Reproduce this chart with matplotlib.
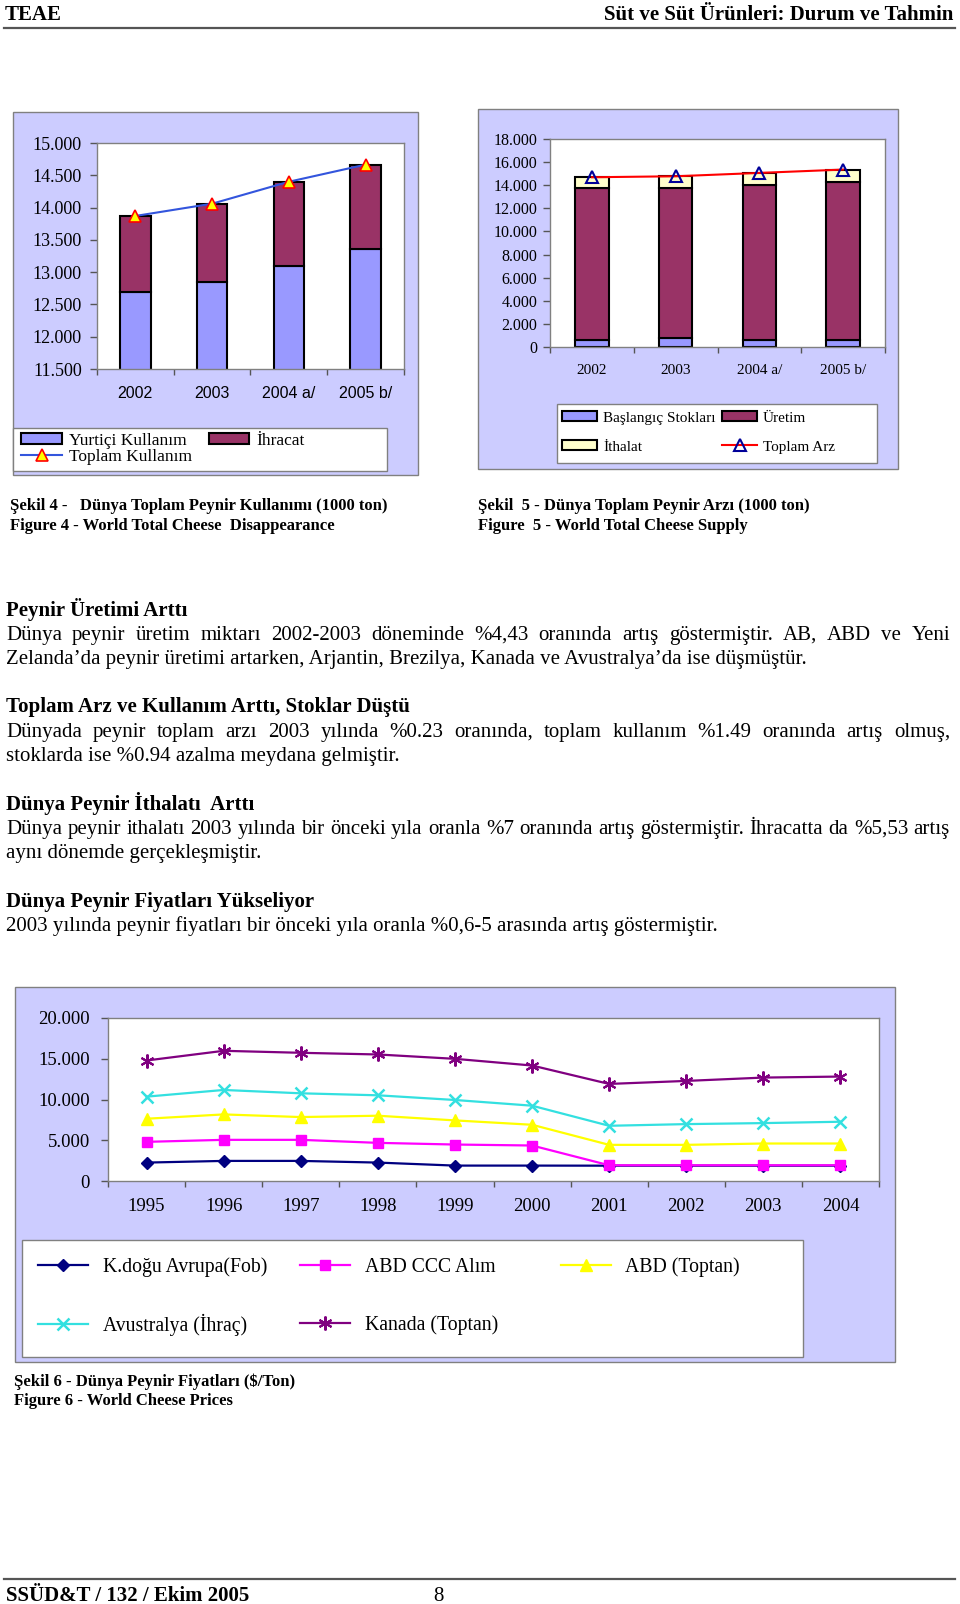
import matplotlib
matplotlib.use('Agg')
import matplotlib.pyplot as plt
from matplotlib.patches import Rectangle, Patch
from matplotlib.lines import Line2D
from matplotlib.ticker import FuncFormatter
import numpy as np

W, H = 960, 1604
SERIF = 'Liberation Serif'
SANS = 'Liberation Sans'

# ---------------- data ----------------
c1_years = ['2002', '2003', '2004 a/', '2005 b/']
c1_yurtici = [12700, 12855, 13095, 13360]
c1_ihracat = [1170, 1205, 1305, 1305]
c1_toplam = [13870, 14060, 14400, 14665]

c2_years = ['2002', '2003', '2004 a/', '2005 b/']
c2_stok = [635, 780, 635, 635]
c2_uretim = [13130, 12985, 13390, 13680]
c2_ithalat = [925, 1010, 1040, 1040]
c2_toplam = [14690, 14775, 15065, 15355]

c3_years = ['1995', '1996', '1997', '1998', '1999', '2000', '2001', '2002', '2003', '2004']
c3_kdogu = [2260, 2465, 2465, 2260, 1890, 1890, 1880, 1880, 1880, 1880]
c3_abd_ccc = [4805, 5050, 5050, 4680, 4475, 4355, 1930, 1930, 1930, 1930]
c3_abd_toptan = [7640, 8170, 7845, 8010, 7435, 6900, 4435, 4435, 4600, 4600]
c3_avustralya = [10350, 11170, 10760, 10515, 9940, 9240, 6775, 6980, 7105, 7270]
c3_kanada = [14785, 15975, 15730, 15525, 14990, 14170, 11910, 12280, 12690, 12815]

# ---------------- helpers ----------------
fig = plt.figure(figsize=(W / 100, H / 100), dpi=100)
fig.patch.set_facecolor('white')


def fx(x):
    return x / W


def fy(y):
    return 1 - y / H


def axes_px(l, t, r, b):
    return fig.add_axes([fx(l), fy(b), (r - l) / W, (b - t) / H])


def box(l, t, r, b, fc, ec='#808080', lw=1.0, z=-2):
    fig.add_artist(Rectangle((fx(l), fy(b)), (r - l) / W, (b - t) / H,
                             transform=fig.transFigure, facecolor=fc,
                             edgecolor=ec, linewidth=lw, zorder=z))


def thousands(v, p):
    return f"{int(round(v)):,}".replace(',', '.')


def style_ax(ax, n, ysize, xsize, yfam=SERIF, xfam=SERIF, ypad=6, xpad=10):
    ax.set_facecolor('white')
    for s in ax.spines.values():
        s.set_color('#808080')
        s.set_linewidth(1.0)
    ax.set_xlim(-0.5, n - 0.5)
    ax.set_xticks(np.arange(n))
    ax.set_xticks(np.arange(-0.5, n, 1.0), minor=True)
    ax.tick_params(axis='x', which='major', length=0, pad=xpad + 4)
    ax.tick_params(axis='x', which='minor', length=4, width=1, color='#555555', direction='out')
    ax.tick_params(axis='y', which='major', length=5, width=1, color='#555555', direction='out', pad=ypad)
    ax.yaxis.set_major_formatter(FuncFormatter(thousands))
    for lab in ax.get_yticklabels():
        lab.set_family(yfam)
        lab.set_fontsize(ysize)
    for lab in ax.get_xticklabels():
        lab.set_family(xfam)
        lab.set_fontsize(xsize)


def leg_entry(handle, label, x_handle, x_text, y, size, hlen_px, hh_px=None):
    fpx = size * 100 / 72
    hl = hlen_px / fpx
    htp = (x_text - x_handle - hlen_px) / fpx
    hh = (hh_px / fpx) if hh_px else 0.7
    lg = fig.legend([handle], [label], loc='center left',
                    bbox_to_anchor=(fx(x_handle), fy(y)),
                    bbox_transform=fig.transFigure, frameon=False,
                    borderpad=0, borderaxespad=0, handlelength=hl,
                    handletextpad=htp, handleheight=hh, numpoints=1,
                    prop={'family': SERIF, 'size': size})
    return lg


def txt(x, y, s, size, weight='normal', ha='left'):
    return fig.text(fx(x), fy(y), s, fontsize=size, family=SERIF,
                    weight=weight, ha=ha, va='baseline')


renderer = fig.canvas.get_renderer()


def justify(x0, x1, y, s, size, weight='normal'):
    words = s.split()
    ts = [txt(x0, y, w, size, weight) for w in words]
    widths = [t.get_window_extent(renderer).width for t in ts]
    gap = (x1 - x0 - sum(widths)) / (len(words) - 1)
    min_gap = 0.12 * size * 100 / 72
    if gap < min_gap:
        scale = (x1 - x0 - min_gap * (len(words) - 1)) / sum(widths)
        for t in ts:
            t.set_fontsize(size * scale)
        widths = [t.get_window_extent(renderer).width for t in ts]
        gap = (x1 - x0 - sum(widths)) / (len(words) - 1)
    x = x0
    for t, w in zip(ts, widths):
        t.set_x(fx(x))
        x += w + gap


# ---------------- page header / footer ----------------
txt(5, 20, 'TEAE', 15, 'bold')
txt(953, 20, 'Süt ve Süt Ürünleri: Durum ve Tahmin', 15, 'bold', ha='right')
fig.add_artist(Line2D([fx(4), fx(955)], [fy(27.6), fy(27.6)], transform=fig.transFigure,
                      color='#555555', linewidth=1.6))
fig.add_artist(Line2D([fx(4), fx(955)], [fy(1579), fy(1579)], transform=fig.transFigure,
                      color='#555555', linewidth=1.6))
txt(6, 1601, 'SSÜD&T / 132 / Ekim 2005', 15, 'bold')
txt(438, 1601, '8', 15, 'normal', ha='center')

# ---------------- chart 1 ----------------
box(13, 112, 418, 475, '#CCCCFF')
box(13, 428, 387, 471, 'white', z=-1)
ax1 = axes_px(97, 143, 404, 369)
x1 = np.arange(len(c1_years))
ax1.bar(x1, c1_yurtici, width=0.4, color='#9999FF', edgecolor='black', linewidth=1.5, zorder=2)
ax1.bar(x1, c1_ihracat, width=0.4, bottom=c1_yurtici, color='#993366', edgecolor='black',
        linewidth=1.5, zorder=2)
ax1.plot(x1, c1_toplam, color='#3355DD', linewidth=1.5, marker='^', markersize=8,
         markerfacecolor='#FFFF00', markeredgecolor='#FF0000', markeredgewidth=1.2, zorder=3)
ax1.set_ylim(11500, 15000)
ax1.set_yticks(np.arange(11500, 15001, 500))
ax1.set_xticks(x1)
ax1.set_xticklabels(c1_years)
style_ax(ax1, len(c1_years), 13, 11.5, SERIF, SANS, ypad=6, xpad=8)

leg_entry(Patch(facecolor='#9999FF', edgecolor='black', linewidth=1.5), 'Yurtiçi Kullanım',
          21, 69, 441, 12.5, 41, 10)
leg_entry(Patch(facecolor='#993366', edgecolor='black', linewidth=1.5), 'İhracat',
          209, 256, 441, 12.5, 40, 10)
leg_entry(Line2D([], [], color='#3355DD', linewidth=1.5, marker='^', markersize=8,
                 markerfacecolor='#FFFF00', markeredgecolor='#FF0000', markeredgewidth=1.2),
          'Toplam Kullanım', 21, 69, 457, 12.5, 41)

# ---------------- chart 2 ----------------
box(478, 109, 898, 469, '#CCCCFF')
box(557, 404, 877, 463, 'white', z=-1)
ax2 = axes_px(550, 139, 885, 347)
x2 = np.arange(len(c2_years))
b_stok = np.array(c2_stok)
b_ur = b_stok + np.array(c2_uretim)
ax2.bar(x2, c2_stok, width=0.4, color='#9999FF', edgecolor='black', linewidth=1.5, zorder=2)
ax2.bar(x2, c2_uretim, width=0.4, bottom=b_stok, color='#993366', edgecolor='black',
        linewidth=1.5, zorder=2)
ax2.bar(x2, c2_ithalat, width=0.4, bottom=b_ur, color='#FFFFCC', edgecolor='black',
        linewidth=1.5, zorder=2)
ax2.plot(x2, c2_toplam, color='#FF0000', linewidth=1.5, marker='^', markersize=8,
         markerfacecolor='none', markeredgecolor='#000099', markeredgewidth=1.5, zorder=3)
ax2.set_ylim(0, 18000)
ax2.set_yticks(np.arange(0, 18001, 2000))
ax2.set_xticks(x2)
ax2.set_xticklabels(c2_years)
style_ax(ax2, len(c2_years), 11.5, 11, SERIF, SERIF, ypad=4, xpad=8)

leg_entry(Patch(facecolor='#9999FF', edgecolor='black', linewidth=1.5), 'Başlangıç Stokları',
          562, 603, 418, 11, 35, 9)
leg_entry(Patch(facecolor='#FFFFCC', edgecolor='black', linewidth=1.5), 'İthalat',
          562, 603, 447, 11, 35, 9)
leg_entry(Patch(facecolor='#993366', edgecolor='black', linewidth=1.5), 'Üretim',
          722, 763, 418, 11, 35, 9)
leg_entry(Line2D([], [], color='#FF0000', linewidth=1.5, marker='^', markersize=8,
                 markerfacecolor='none', markeredgecolor='#000099', markeredgewidth=1.5),
          'Toplam Arz', 722, 763, 447, 11, 35)

# ---------------- captions ----------------
CS = 12
txt(10, 510, 'Şekil 4 -   Dünya Toplam Peynir Kullanımı (1000 ton)', CS, 'bold')
txt(10, 530.5, 'Figure 4 - World Total Cheese  Disappearance', CS, 'bold')
txt(478, 510, 'Şekil  5 - Dünya Toplam Peynir Arzı (1000 ton)', CS, 'bold')
txt(478, 530.5, 'Figure  5 - World Total Cheese Supply', CS, 'bold')

# ---------------- body text ----------------
BS = 15
HS = 15
L, R = 6, 950
txt(L, 616, 'Peynir Üretimi Arttı', HS, 'bold')
justify(L, R, 640, 'Dünya peynir üretim miktarı 2002-2003 döneminde %4,43 oranında artış '
        'göstermiştir. AB, ABD ve Yeni', BS)
txt(L, 664, 'Zelanda’da peynir üretimi artarken, Arjantin, Brezilya, Kanada ve '
    'Avustralya’da ise düşmüştür.', BS)

txt(L, 712, 'Toplam Arz ve Kullanım Arttı, Stoklar Düştü', HS, 'bold')
justify(L, R, 737, 'Dünyada peynir toplam arzı 2003 yılında %0.23 oranında, toplam kullanım '
        '%1.49 oranında artış olmuş,', BS)
txt(L, 761, 'stoklarda ise %0.94 azalma meydana gelmiştir.', BS)

txt(L, 810, 'Dünya Peynir İthalatı  Arttı', HS, 'bold')
justify(L, R, 834, 'Dünya peynir ithalatı 2003 yılında bir önceki yıla oranla %7 oranında '
        'artış göstermiştir. İhracatta da %5,53 artış', BS)
txt(L, 858, 'aynı dönemde gerçekleşmiştir.', BS)

txt(L, 907, 'Dünya Peynir Fiyatları Yükseliyor', HS, 'bold')
txt(L, 931, '2003 yılında peynir fiyatları bir önceki yıla oranla %0,6-5 arasında artış '
    'göstermiştir.', BS)

# ---------------- chart 3 ----------------
box(15, 987, 895, 1362, '#CCCCFF')
box(22, 1240, 803, 1357, 'white', z=-1)
ax3 = axes_px(108, 1018, 879, 1181)
x3 = np.arange(len(c3_years))
s_kdogu = dict(color='#000080', marker='D', markersize=6.5, label='K.doğu Avrupa(Fob)')
s_ccc = dict(color='#FF00FF', marker='s', markersize=7, label='ABD CCC Alım')
s_top = dict(color='#FFFF00', marker='^', markersize=8.5, label='ABD (Toptan)')
s_avu = dict(color='#33E0E0', marker='x', markersize=8, markeredgewidth=1.8, label='Avustralya (İhraç)')
s_kan = dict(color='#800080', marker=(6, 2, 0), markersize=10, markeredgewidth=1.5, label='Kanada (Toptan)')
series = [(c3_kdogu, s_kdogu), (c3_abd_ccc, s_ccc), (c3_abd_toptan, s_top),
          (c3_avustralya, s_avu), (c3_kanada, s_kan)]
handles = []
for vals, st in series:
    h, = ax3.plot(x3, vals, linewidth=1.6, zorder=3, **st)
    handles.append(h)
ax3.set_ylim(0, 20000)
ax3.set_yticks(np.arange(0, 20001, 5000))
ax3.set_xticks(x3)
ax3.set_xticklabels(c3_years)
style_ax(ax3, len(c3_years), 13.5, 13.5, SERIF, SERIF, ypad=8, xpad=8)

pos = [(38, 103, 1267), (300, 365, 1267), (561, 625, 1267), (38, 103, 1325), (300, 365, 1325)]
for h, (xh, xt, yy) in zip(handles, pos):
    leg_entry(h, h.get_label(), xh, xt, yy, 14.2, 50)

txt(14, 1385.5, 'Şekil 6 - Dünya Peynir Fiyatları (\\$/Ton)', CS, 'bold')
txt(14, 1405, 'Figure 6 - World Cheese Prices', CS, 'bold')

fig.savefig('out.png', dpi=100)
